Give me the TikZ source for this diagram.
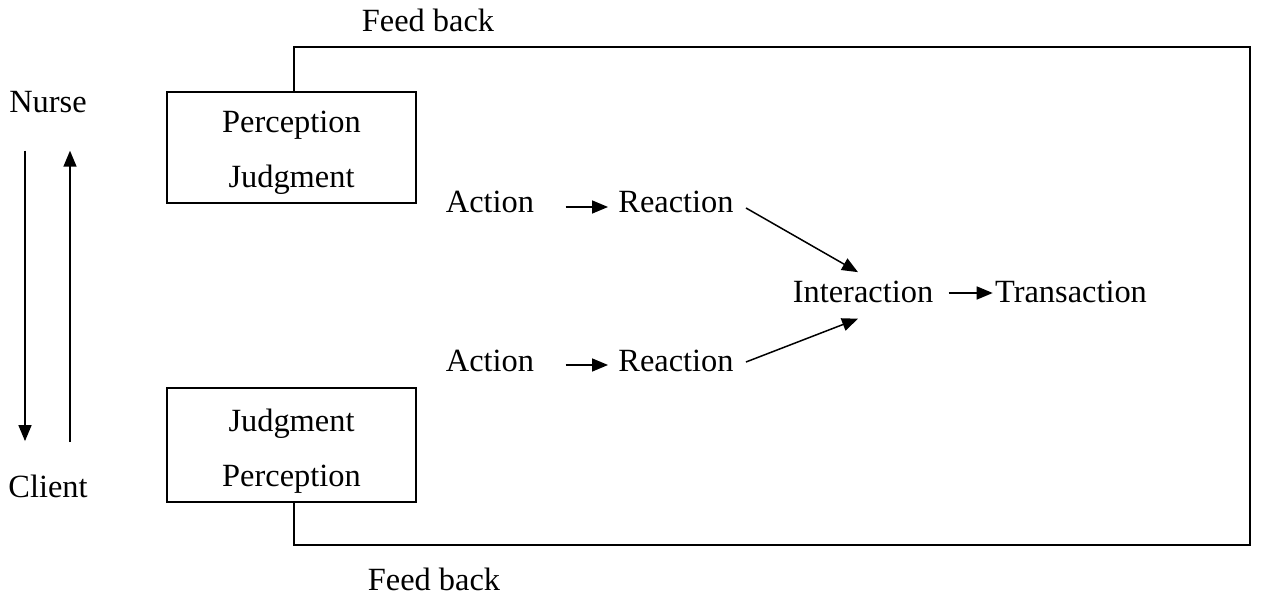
\documentclass[tikz,border=0pt]{standalone}
\usepackage{fontspec}
\setmainfont{Liberation Serif}
\usetikzlibrary{arrows.meta}

\begin{document}
\begin{tikzpicture}[x=0.5pt,y=-0.5pt]
\tikzset{
  word/.style={inner sep=0pt,font=\fontsize{16.2}{19.4}\selectfont},
  stagebox/.style={draw,line width=0.8pt,inner sep=0pt,align=center,minimum width=124.5pt,font=\fontsize{16.2}{27.5}\selectfont},
  flow/.style={-{Triangle[length=8pt,width=6.5pt]},line width=0.75pt},
  fbline/.style={line width=0.8pt}
}
\useasboundingbox (0,0) rectangle (1267,597);
\node[word,anchor=base] (nurse) at (48,113) {Nurse};
\node[word,anchor=base] (client) at (48,498) {Client};
\node[stagebox,minimum height=55.5pt] (pj) at (291.5,147.5) {\rule{0pt}{16pt}Perception\\Judgment};
\node[stagebox,minimum height=57pt] (jp) at (291.5,445) {\rule{0pt}{17.5pt}Judgment\\Perception};
\node[word,anchor=base] (fb_top) at (428,32) {Feed back};
\node[word,anchor=base] (fb_bot) at (434,590) {Feed back};
\node[word,anchor=base] (act1) at (490,213) {Action};
\node[word,anchor=base] (rea1) at (676,213) {Reaction};
\node[word,anchor=base] (act2) at (490,372) {Action};
\node[word,anchor=base] (rea2) at (676,372) {Reaction};
\node[word,anchor=base] (inter) at (863,303) {Interaction};
\node[word,anchor=base] (trans) at (1071,303) {Transaction};
\coordinate (fb_ne) at (1250,47);
\coordinate (fb_se) at (1250,545);
\draw[flow] ([xshift=-11.5pt,yshift=-18.5pt]nurse.south) -- ([xshift=-11.5pt,yshift=17pt]client.north);
\draw[flow] ([xshift=11pt,yshift=16.5pt]client.north) -- ([xshift=11pt,yshift=-18.5pt]nurse.south);
\draw[fbline] ([xshift=1.25pt]pj.north) |- (fb_ne) -- (fb_se) -| ([xshift=1.25pt]jp.south);
\draw[flow,shorten <=15.5pt,shorten >=5pt] ([yshift=3pt]act1.base east) -- ([yshift=3pt]rea1.base west);
\draw[flow,shorten <=15.5pt,shorten >=5pt] ([yshift=3.5pt]act2.base east) -- ([yshift=3.5pt]rea2.base west);
\draw[flow] ([xshift=6pt,yshift=2.5pt]rea1.base east) -- ([xshift=-2.5pt,yshift=4.5pt]inter.north);
\draw[flow] ([xshift=6pt,yshift=5pt]rea2.base east) -- ([xshift=-2.5pt,yshift=-7.5pt]inter.south);
\draw[flow,shorten <=7.5pt,shorten >=1pt] ([yshift=5pt]inter.base east) -- ([yshift=5pt]trans.base west);
\end{tikzpicture}
\end{document}
